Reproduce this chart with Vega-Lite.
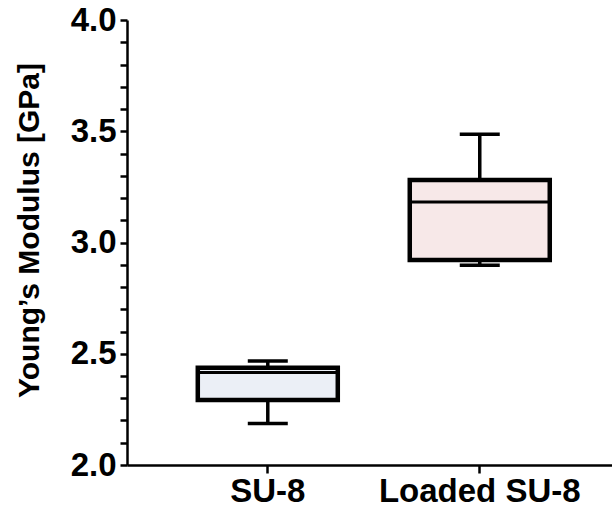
{
  "$schema": "https://vega.github.io/schema/vega-lite/v6.json",
  "autosize": {"type": "none"},
  "padding": {"left": 127, "top": 20, "right": 0, "bottom": 45},
  "width": 485,
  "height": 445,
  "background": "white",
  "config": {"view": {"stroke": null}},
  "resolve": {"axis": {"y": "independent"}},
  "data": {"values": [
    {"group": "SU-8", "min": 2.187, "q1": 2.292, "median": 2.416, "q3": 2.437, "max": 2.467},
    {"group": "Loaded SU-8", "min": 2.898, "q1": 2.921, "median": 3.182, "q3": 3.281, "max": 3.486}
  ]},
  "encoding": {
    "x": {
      "field": "group", "type": "nominal", "sort": ["SU-8", "Loaded SU-8"],
      "scale": {"paddingInner": 0, "paddingOuter": 0.144, "align": 0.57},
      "axis": {
        "title": null, "labelAngle": 0, "domainColor": "black", "domainWidth": 2.5,
        "tickColor": "black", "tickWidth": 2.5, "tickSize": 8,
        "labelFont": "Liberation Sans", "labelFontWeight": "bold", "labelFontSize": 33,
        "labelColor": "black", "labelPadding": 2, "labelOverlap": false, "labelLimit": 0
      }
    }
  },
  "layer": [
    {
      "mark": {"type": "rule", "color": "black", "strokeWidth": 3.5},
      "encoding": {
        "y": {"field": "min", "type": "quantitative",
          "scale": {"domain": [2, 4], "nice": false, "zero": false},
          "axis": {
            "orient": "left",
            "title": "Young\u2019s Modulus [GPa]", "titleFont": "Liberation Sans", "titleFontWeight": "bold",
            "titleFontSize": 30, "titleColor": "black", "titlePadding": 26, "titleY": 210,
            "values": [2.0, 2.5, 3.0, 3.5, 4.0], "format": ".1f",
            "grid": false, "domainColor": "black", "domainWidth": 2.5,
            "tickColor": "black", "tickWidth": 2.5, "tickSize": 7,
            "labelFont": "Liberation Sans", "labelFontWeight": "bold", "labelFontSize": 33,
            "labelColor": "black", "labelPadding": 4
          }
        },
        "y2": {"field": "max"}
      }
    },
    {
      "mark": {"type": "tick", "color": "black", "opacity": 1, "thickness": 3.5, "size": 40},
      "encoding": {"y": {"field": "min", "type": "quantitative",
        "axis": {
          "orient": "left", "title": null, "labels": false, "domain": false, "grid": false,
          "values": [2.1,2.2,2.3,2.4,2.6,2.7,2.8,2.9,3.1,3.2,3.3,3.4,3.6,3.7,3.8,3.9],
          "tickColor": "black", "tickWidth": 2.5, "tickSize": 7
        }}}
    },
    {
      "mark": {"type": "tick", "color": "black", "opacity": 1, "thickness": 3.5, "size": 40},
      "encoding": {"y": {"field": "max", "type": "quantitative", "axis": null}}
    },
    {
      "mark": {"type": "bar", "size": 140, "stroke": "black", "strokeWidth": 4.5, "opacity": 1},
      "encoding": {
        "y": {"field": "q1", "type": "quantitative", "axis": null},
        "y2": {"field": "q3"},
        "fill": {"field": "group", "type": "nominal",
          "scale": {"domain": ["SU-8", "Loaded SU-8"], "range": ["#ebeff6", "#f7e8e8"]},
          "legend": null}
      }
    },
    {
      "mark": {"type": "tick", "color": "black", "opacity": 1, "thickness": 3, "size": 140},
      "encoding": {"y": {"field": "median", "type": "quantitative", "axis": null}}
    }
  ]
}
